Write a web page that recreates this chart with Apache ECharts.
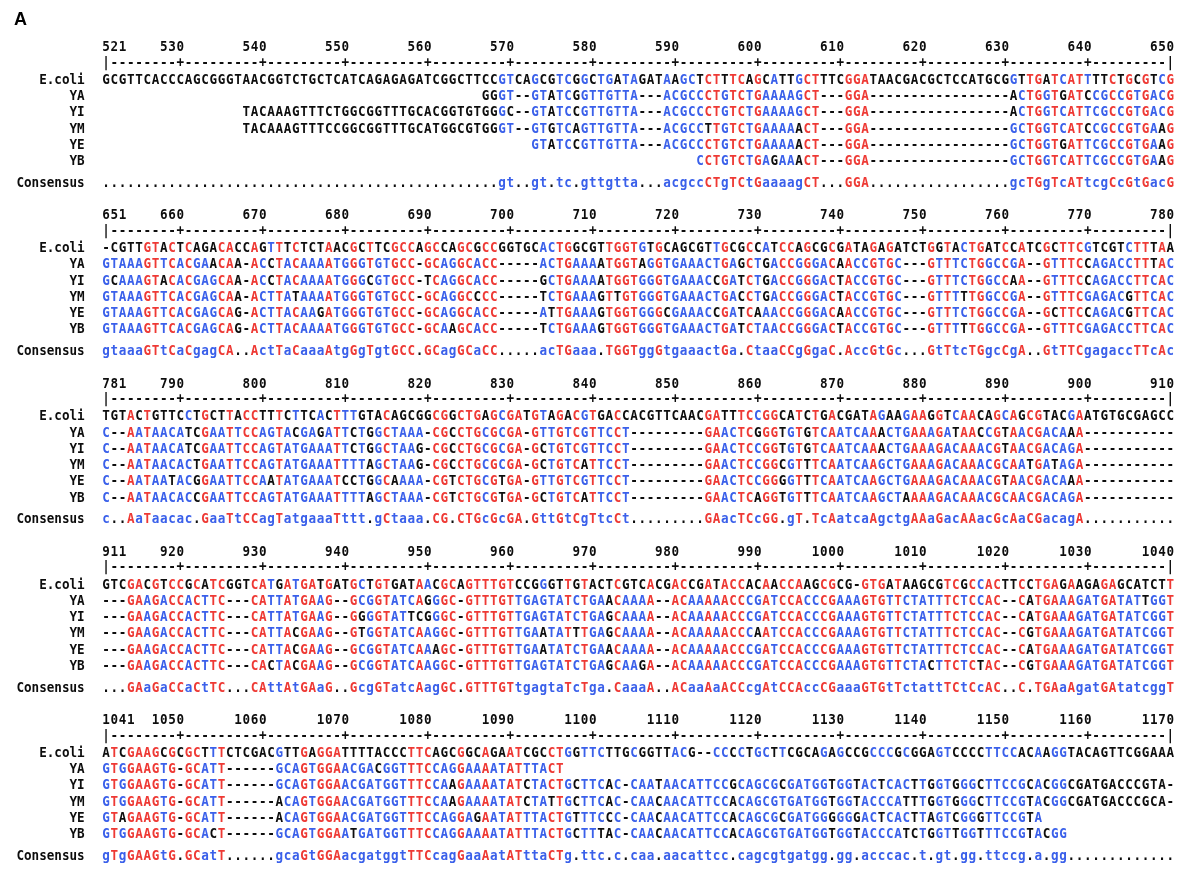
<!DOCTYPE html>
<html><head><meta charset="utf-8">
<script src="https://cdn.jsdelivr.net/npm/echarts@6/dist/echarts.min.js"></script>
<style>html,body{margin:0;padding:0;background:#fff}#c{width:1180px;height:872px}</style>
</head><body><div id="c"></div>
<script>
// ---------------- DATA ----------------
// Each block spans 130 alignment columns; chunks of 10 columns, '_' = no residue.
const blockStarts = [521, 651, 781, 911, 1041];
const seqNames = ['E.coli', 'YA', 'YI', 'YM', 'YE', 'YB'];
const consensusName = 'Consensus';

const ecoliSeq = [
  "GCGTTCACCC AGCGGGTAAC GGTCTGCTCA TCAGAGAGAT CGGCTTCCGT CAGCGTCGGC TGATAGATAA GCTCTTTCAG CATTGCTTTC GGATAACGAC GCTCCATGCG GTTGATCATT TTCTGCGTCG",
  "-CGTTGTACT CAGACACCAG TTTCTCTAAC GCTTCGCCAG CCAGCGCCGG TGCACTGGCG TTGGTGTGCA GCGTTGCGCC ATCCAGCGCG ATAGAGATCT GGTACTGATC CATCGCTTCG TCGTCTTTAA",
  "TGTACTGTTC CTGCTTACCT TTCTTCACTT TGTACAGCGG CGGCTGAGCG ATGTAGACGT GACCACGTTC AACGATTTCC GGCATCTGAC GATAGAAGAA GGTCAACAGC AGCGTACGAA TGTGCGAGCC",
  "GTCGACGTCC GCATCGGTCA TGATGATGAT GCTGTGATAA CGCAGTTTGT CCGGGTTGTA CTCGTCACGA CCGATACCAC AACCAAGCGC G-GTGATAAG CGTCGCCACT TCCTGAGAAG AGAGCATCTT",
  "ATCGAAGCGC GCTTTCTCGA CGTTGAGGAT TTTACCCTTC AGCGGCAGAA TCGCCTGGTT CTTGCGGTTA CG--CCCCTG CTTCGCAGAG CCGCCCGCGG AGTCCCCTTC CACAAGGTAC AGTTCGGAAA"
];
const yaSeq = [
  "__________ __________ __________ __________ ______GGGT --GTATCGGT TGTTA---AC GCCCTGTCTG AAAAGCT--- GGA------- ---------- ACTGGTGATC CGCCGTGACG",
  "GTAAAGTTCA CGAACAA-AC CTACAAAATG GGTGTGCC-G CAGGCACC-- ---ACTGAAA ATGGTAGGTG AAACTGAGCT GACCGGGACA ACCGTGC--- GTTTCTGGCC GA--GTTTCC AGACCTTTAC",
  "C--AATAACA TCGAATTCCA GTACGAGATT CTGGCTAAA- CGCCTGCGCG A-GTTGTCGT TCCT------ ---GAACTCG GGTGTGTCAA TCAAACTGAA AGATAACCGT AACGACAAA- ----------",
  "---GAAGACC ACTTC---CA TTATGAAG-- GCGGTATCAG GGC-GTTTGT TGAGTATCTG AACAAAA--A CAAAAACCCG ATCCACCCGA AAGTGTTCTA TTTCTCCAC- -CATGAAAGA TGATATTGGT",
  "GTGGAAGTG- GCATT----- -GCAGTGGAA CGACGGTTTC CAGGAAAATA TTTACT____ __________ __________ __________ __________ __________ __________ __________"
];
const yiSeq = [
  "__________ _______TAC AAAGTTTCTG GCGGTTTGCA CGGTGTGGGC --GTATCCGT TGTTA---AC GCCCTGTCTG AAAAGCT--- GGA------- ---------- ACTGGTCATT CGCCGTGACG",
  "GCAAAGTACA CGAGCAA-AC CTACAAAATG GGCGTGCC-T CAGGCACC-- ---GCTGAAA ATGGTGGGTG AAACCGATCT GACCGGGACT ACCGTGC--- GTTTCTGGCC AA--GTTTCC AGACCTTCAC",
  "C--AATAACA TCGAATTCCA GTATGAAATT CTGGCTAAG- CGCCTGCGCG A-GCTGTCGT TCCT------ ---GAACTCC GGTGTGTCAA TCAAACTGAA AGACAAACGT AACGACAGA- ----------",
  "---GAAGACC ACTTC---CA TTATGAAG-- GGGGTATTCG GGC-GTTTGT TGAGTATCTG AGCAAAA--A CAAAAACCCG ATCCACCCGA AAGTGTTCTA TTTCTCCAC- -CATGAAAGA TGATATCGGT",
  "GTGGAAGTG- GCATT----- -GCAGTGGAA CGATGGTTTC CAAGAAAATA TCTACTGCTT CAC-CAATAA CATTCCGCAG CGCGATGGTG GTACTCACTT GGTGGGCTTC CGCACGGCGA TGACCCGTA-"
];
const ymSeq = [
  "__________ _______TAC AAAGTTTCCG GCGGTTTGCA TGGCGTGGGT --GTGTCAGT TGTTA---AC GCCTTGTCTG AAAAACT--- GGA------- ---------- GCTGGTCATC CGCCGTGAAG",
  "GTAAAGTTCA CGAGCAA-AC TTATAAAATG GGTGTGCC-G CAGGCCCC-- ---TCTGAAA GTTGTGGGTG AAACTGACCT GACCGGGACT ACCGTGC--- GTTTTTGGCC GA--GTTTCG AGACGTTCAC",
  "C--AATAACA CTGAATTCCA GTATGAAATT TTAGCTAAG- CGCCTGCGCG A-GCTGTCAT TCCT------ ---GAACTCC GGCGTTTCAA TCAAGCTGAA AGACAAACGC AATGATAGA- ----------",
  "---GAAGACC ACTTC---CA TTACGAAG-- GTGGTATCAA GGC-GTTTGT TGAATATTTG AGCAAAA--A CAAAAACCCA ATCCACCCGA AAGTGTTCTA TTTCTCCAC- -CGTGAAAGA TGATATCGGT",
  "GTGGAAGTG- GCATT----- -ACAGTGGAA CGATGGTTTC CAAGAAAATA TCTATTGCTT CAC-CAACAA CATTCCACAG CGTGATGGTG GTACCCATTT GGTGGGCTTC CGTACGGCGA TGACCCGCA-"
];
const yeSeq = [
  "__________ __________ __________ __________ __________ __GTATCCGT TGTTA---AC GCCCTGTCTG AAAAACT--- GGA------- ---------- GCTGGTGATT CGCCGTGAAG",
  "GTAAAGTTCA CGAGCAG-AC TTACAAGATG GGTGTGCC-G CAGGCACC-- ---ATTGAAA GTGGTGGGCG AAACCGATCA AACCGGGACA ACCGTGC--- GTTTCTGGCC GA--GCTTCC AGACGTTCAC",
  "C--AATAATA CGGAATTCCA ATATGAAATC CTGGCAAAA- CGTCTGCGTG A-GTTGTCGT TCCT------ ---GAACTCC GGGGTTTCAA TCAAGCTGAA AGACAAACGT AACGACAAA- ----------",
  "---GAAGACC ACTTC---CA TTACGAAG-- GCGGTATCAA AGC-GTTTGT TGAATATCTG AACAAAA--A CAAAAACCCG ATCCACCCGA AAGTGTTCTA TTTCTCCAC- -CATGAAAGA TGATATCGGT",
  "GTAGAAGTG- GCATT----- -ACAGTGGAA CGATGGTTTC CAGGAGAATA TTTACTGTTT CCC-CAACAA CATTCCACAG CGCGATGGGG GGACTCACTT AGTCGGGTTC CGTA______ __________"
];
const ybSeq = [
  "__________ __________ __________ __________ __________ __________ __________ __CCTGTCTG AGAAACT--- GGA------- ---------- GCTGGTCATT CGCCGTGAAG",
  "GTAAAGTTCA CGAGCAG-AC TTACAAAATG GGTGTGCC-G CAAGCACC-- ---TCTGAAA GTGGTGGGTG AAACTGATCT AACCGGGACT ACCGTGC--- GTTTTTGGCC GA--GTTTCG AGACCTTCAC",
  "C--AATAACA CCGAATTCCA GTATGAAATT TTAGCTAAA- CGTCTGCGTG A-GCTGTCAT TCCT------ ---GAACTCA GGTGTTTCAA TCAAGCTAAA AGACAAACGC AACGACAGA- ----------",
  "---GAAGACC ACTTC---CA CTACGAAG-- GCGGTATCAA GGC-GTTTGT TGAGTATCTG AGCAAGA--A CAAAAACCCG ATCCACCCGA AAGTGTTCTA CTTCTCTAC- -CGTGAAAGA TGATATCGGT",
  "GTGGAAGTG- GCACT----- -GCAGTGGAA TGATGGTTTC CAGGAAAATA TTTACTGCTT TAC-CAACAA CATTCCACAG CGTGATGGTG GTACCCATCT GGTTGGTTTC CGTACGG___ __________"
];
const consensusSeq = [
  ".......... .......... .......... .......... ........gt ..gt.tc.gt tgtta...ac gccCTgTCtG aaaagCT... GGA....... .......... gcTGgTcATt cgCcGtGacG",
  "gtaaaGTtCa CgagCA..Ac tTaCaaaAtg GgTgtGCC.G CagGCaCC.. ...acTGaaa .TGGTggGtg aaactGa.Ct aaCCgGgaC. AccGtGc... GtTtcTGgcC gA..GtTTCg agaccTTcAc",
  "c..AaTaaca c.GaaTtCCa gTatgaaaTt tt.gCtaaa. CG.CTGcGcG A.GttGtCgT tcCt...... ...GAacTCc GG.gT.TcAa tcaAgctgAA aGacAAacGc AaCGacagA. ..........",
  "...GAaGaCC aCtTC...CA ttAtGAaG.. GcgGTatcAa gGC.GTTTGT tgagtaTcTg a.CaaaA..A CaaAaACCcg AtCCAccCGa aaGTGtTcta ttTCtCcAC. .C.TGAaAga tGAtatcggT",
  "gTgGAAGtG. GCatT..... .gcaGtGGAa cgatggtTTC cagGaaAatA TttaCTg.tt c.c.caa.aa cattcc.cag cgtgatgg.g g.acccac.t .gt.gg.ttc cg.a.gg... .........."
];
const sequences = [ecoliSeq, yaSeq, yiSeq, ymSeq, yeSeq, ybSeq];

// ---------------- STYLE ----------------
const RED = '#ee3934', BLUE = '#3a60ea', BLACK = '#0d0d0d';
const FONT = 'bold 14px "DejaVu Sans Mono", monospace';
const LABEL_FONT = 'bold 14px "DejaVu Sans Mono", monospace';
const GLYPH_SCALE_X = 0.9;
const SEQ_LEFT = 102, COL_W = 8.25, ROW_H = 16.3, BLOCK_PITCH = 168.3, FIRST_ROW_Y = 80;
const Y_MIN = -2.6, Y_MAX = 6.8;
const HEADER_ROW = -2.0, RULER_ROW = -1.05, CONS_ROW = 6.32;
const LABEL_X_OFFSET = -2.6; // in columns, relative to block start

function cells(s) { return s.replace(/ /g, '').split(''); }
function residueColor(ch, c) {
  if (!c || c === '.' || ch === '-') return BLACK;
  if (ch.toUpperCase() !== c.toUpperCase()) return BLACK;
  return (c === c.toUpperCase()) ? RED : BLUE;
}

const grids = [], xAxes = [], yAxes = [], series = [];
blockStarts.forEach((start, b) => {
  const top = FIRST_ROW_Y + b * BLOCK_PITCH + Y_MIN * ROW_H;
  grids.push({ left: SEQ_LEFT, top: top, width: 130 * COL_W, height: (Y_MAX - Y_MIN) * ROW_H });
  xAxes.push({ type: 'value', gridIndex: b, min: start - 0.5, max: start + 129.5, show: false });
  yAxes.push({ type: 'value', gridIndex: b, min: Y_MIN, max: Y_MAX, inverse: true, show: false });

  const pts = [], meta = [];
  const add = (x, y, t, c, a, f) => { pts.push([x, y]); meta.push({ t, c, a: a || 'center', f: f || FONT }); };

  // header numbers
  const firstLabel = String(start);
  firstLabel.split('').forEach((d, i) => add(start + i, HEADER_ROW, d, BLACK));
  for (let p = start + 1; p <= start + 129; p++) {
    if (p % 10 === 0) {
      const s = String(p);
      s.split('').forEach((d, i) => add(p - s.length + 1 + i, HEADER_ROW, d, BLACK));
    }
  }
  // ruler
  for (let i = 0; i < 130; i++) {
    const p = start + i;
    const ch = (i === 0 || i === 129) ? '|' : (p % 10 === 0 ? '+' : '-');
    add(p, RULER_ROW, ch, BLACK);
  }
  // sequences
  const cons = cells(consensusSeq[b]);
  sequences.forEach((arr, r) => {
    const cs = cells(arr[b]);
    cs.forEach((ch, i) => {
      if (ch === '_') return;
      add(start + i, r, ch, residueColor(ch, cons[i]));
    });
    add(start + LABEL_X_OFFSET, r, seqNames[r], BLACK, 'right', LABEL_FONT);
  });
  cons.forEach((c, i) => {
    const col = c === '.' ? BLACK : (c === c.toUpperCase() ? RED : BLUE);
    add(start + i, CONS_ROW, c, col);
  });
  add(start + LABEL_X_OFFSET, CONS_ROW, consensusName, BLACK, 'right', LABEL_FONT);

  series.push({
    type: 'custom', xAxisIndex: b, yAxisIndex: b, clip: false, silent: true,
    data: pts,
    renderItem: function (params, api) {
      const m = meta[params.dataIndex];
      const p = api.coord([api.value(0), api.value(1)]);
      return { type: 'text', x: p[0], y: p[1], scaleX: GLYPH_SCALE_X, silent: true,
        style: { text: m.t, fill: m.c, font: m.f, align: m.a, verticalAlign: 'middle' } };
    }
  });
});

const chart = echarts.init(document.getElementById('c'), null, { renderer: 'canvas' });
chart.setOption({
  animation: false,
  backgroundColor: '#ffffff',
  title: { text: 'A', left: 9, top: 6, textStyle: { fontSize: 18, fontWeight: 'bold', fontFamily: 'Liberation Sans, Arial, sans-serif', color: '#000' } },
  grid: grids, xAxis: xAxes, yAxis: yAxes, series: series
});
</script>
</body></html>
